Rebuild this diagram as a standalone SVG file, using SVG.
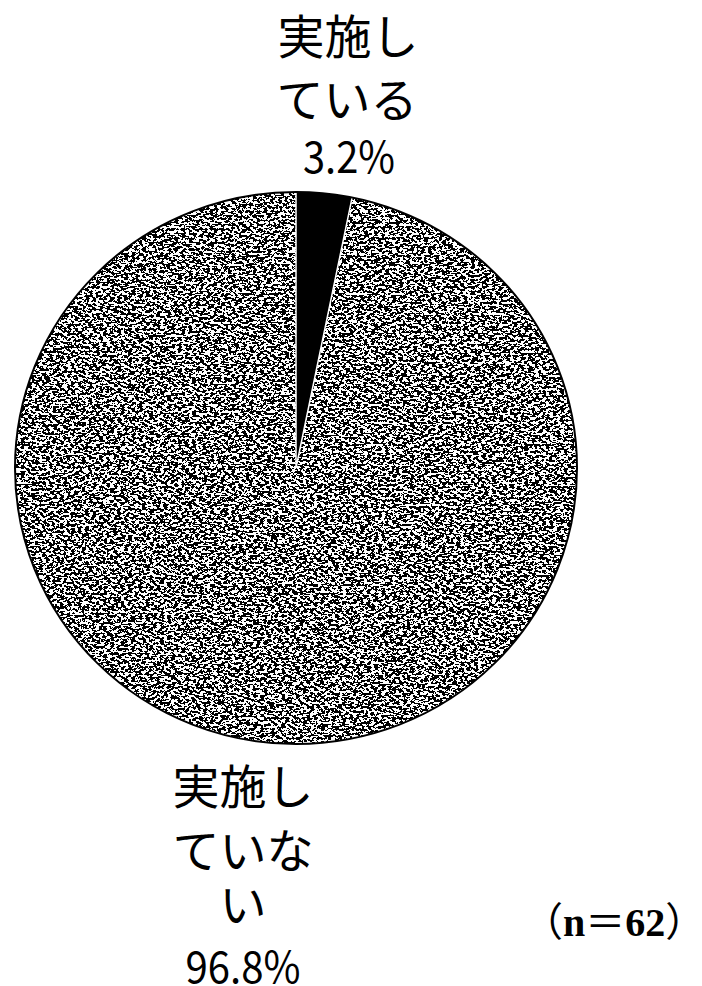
<svg xmlns="http://www.w3.org/2000/svg" width="702" height="986" viewBox="0 0 702 986">
<style>
.lbl{font-family:"Noto Sans CJK JP","Liberation Sans",sans-serif;font-size:47px;fill:#000;text-anchor:middle}
.pct{font-family:"Noto Sans CJK JP","Liberation Sans",sans-serif;font-size:44px;fill:#000;text-anchor:middle}
.n{font-family:"Liberation Serif","Noto Sans CJK JP",serif;font-size:40px;fill:#000;text-anchor:middle}
.edge{fill:none;stroke:#fff;stroke-width:1.5}
</style>
<defs>
<filter id="dither" x="0" y="0" width="100%" height="100%" color-interpolation-filters="sRGB">
<feTurbulence type="fractalNoise" baseFrequency="0.28 0.45" numOctaves="3" seed="7" result="n"/>
<feColorMatrix in="n" type="matrix" values="0 0 0 0 0  0 0 0 0 0  0 0 0 0 0  1 0 0 0 0" result="a"/>
<feComponentTransfer in="a" result="b"><feFuncA type="discrete" tableValues="0 1"/></feComponentTransfer>
<feComposite in="b" in2="SourceAlpha" operator="in" result="c"/>
<feMerge><feMergeNode in="SourceGraphic"/><feMergeNode in="c"/></feMerge>
</filter>
</defs>
<rect width="702" height="986" fill="#fff"/>
<g id="slice-not">
<path d="M296,468 L352.1,197.6 A281,276 0 1 1 296,192 Z" fill="#fff" filter="url(#dither)"/>
</g>
<g id="slice-yes">
<path d="M296,468 L296,192 A281,276 0 0 1 352.1,197.6 Z" fill="#000"/>
</g>
<g id="connectors">
<path class="edge" d="M352.1,197.6 L296,468 L296,192"/>
</g>
<ellipse cx="296" cy="468" rx="281" ry="276" fill="none" stroke="#000" stroke-width="2"/>
<g id="label-yes">
<text class="lbl" x="348" y="54">実施し</text>
<text class="lbl" x="347" y="117">ている</text>
<text class="pct" x="349" y="173" textLength="92" lengthAdjust="spacingAndGlyphs">3.2%</text>
</g>
<g id="label-not">
<text class="lbl" x="243" y="804">実施し</text>
<text class="lbl" x="243" y="868">ていな</text>
<text class="lbl" x="243" y="922">い</text>
<text class="pct" x="243" y="983" textLength="115" lengthAdjust="spacingAndGlyphs">96.8%</text>
</g>
<g id="n-label">
<text class="n" x="614" y="936"><tspan font-family="Noto Sans CJK JP">（</tspan><tspan font-weight="bold">n</tspan><tspan font-family="Noto Sans CJK JP">＝</tspan><tspan font-weight="bold">62</tspan><tspan font-family="Noto Sans CJK JP">）</tspan></text>
</g>
</svg>
